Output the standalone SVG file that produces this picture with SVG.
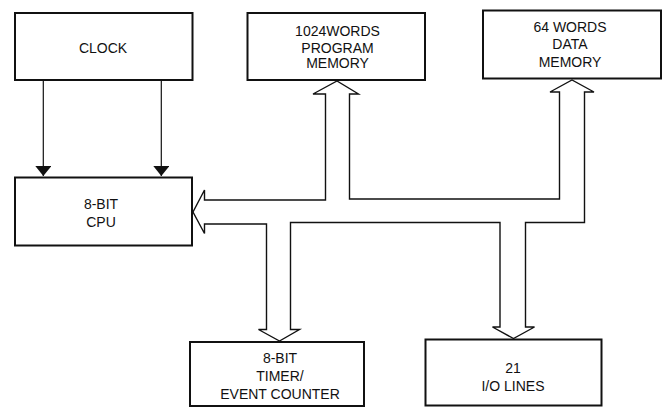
<svg xmlns="http://www.w3.org/2000/svg" width="663" height="408" viewBox="0 0 663 408">
<defs>
<style>
.box{fill:#fff;stroke:#111;stroke-width:2}
.t{font-family:"Liberation Sans",Arial,sans-serif;font-size:14px;fill:#111;text-anchor:middle}
.bus{fill:none;stroke:#111;stroke-width:1.4;stroke-linejoin:miter}
.wire{stroke:#111;stroke-width:1.2;fill:none}
</style>
<marker id="ah" viewBox="0 0 10 16" refX="10" refY="8" markerWidth="10" markerHeight="16" markerUnits="userSpaceOnUse" orient="auto">
<path d="M0,0 L10,8 L0,16 Z" fill="#111"/>
</marker>
</defs>
<rect width="663" height="408" fill="#fff"/>
<g id="connectors">
<line class="wire" x1="43.3" y1="80" x2="43.3" y2="176" marker-end="url(#ah)"/>
<line class="wire" x1="161.3" y1="80" x2="161.3" y2="176" marker-end="url(#ah)"/>
<path class="bus" d="M204.5,200 V190 L193,212 L204.5,233.5 V224 H266.5 V329.5 H258.5 L279.5,341 L299.5,329.5 H290.5 V222.5 H500 V327 H492.5 L513.5,338.5 L534.5,327 H525.5 V222.5 H584.5 V92 H594 L572,80 L550,92 H559.5 V199 H349.5 V94 H358.5 L337,81 L313,94 H325.5 V200 Z"/>
</g>
<g id="clock">
<rect class="box" x="15" y="13" width="177.5" height="67"/>
<text class="t" x="103" y="52.7">CLOCK</text>
</g>
<g id="program-memory">
<rect class="box" x="247.5" y="13" width="177.5" height="67"/>
<text class="t" x="337.5" y="35.7">1024WORDS</text>
<text class="t" x="337.5" y="52.7">PROGRAM</text>
<text class="t" x="337.5" y="68.3">MEMORY</text>
</g>
<g id="data-memory">
<rect class="box" x="483" y="10.5" width="178" height="68"/>
<text class="t" x="570" y="32.3">64 WORDS</text>
<text class="t" x="570" y="49.3">DATA</text>
<text class="t" x="570" y="66.7">MEMORY</text>
</g>
<g id="cpu">
<rect class="box" x="15" y="177.5" width="177" height="68"/>
<text class="t" x="101" y="209">8-BIT</text>
<text class="t" x="101" y="226.7">CPU</text>
</g>
<g id="timer">
<rect class="box" x="190" y="342" width="174" height="64"/>
<text class="t" x="280" y="362.7">8-BIT</text>
<text class="t" x="280" y="381">TIMER/</text>
<text class="t" x="280" y="399">EVENT COUNTER</text>
</g>
<g id="io-lines">
<rect class="box" x="425.5" y="339.5" width="176" height="66"/>
<text class="t" x="513" y="373.3">21</text>
<text class="t" x="513" y="391">I/O LINES</text>
</g>
</svg>
